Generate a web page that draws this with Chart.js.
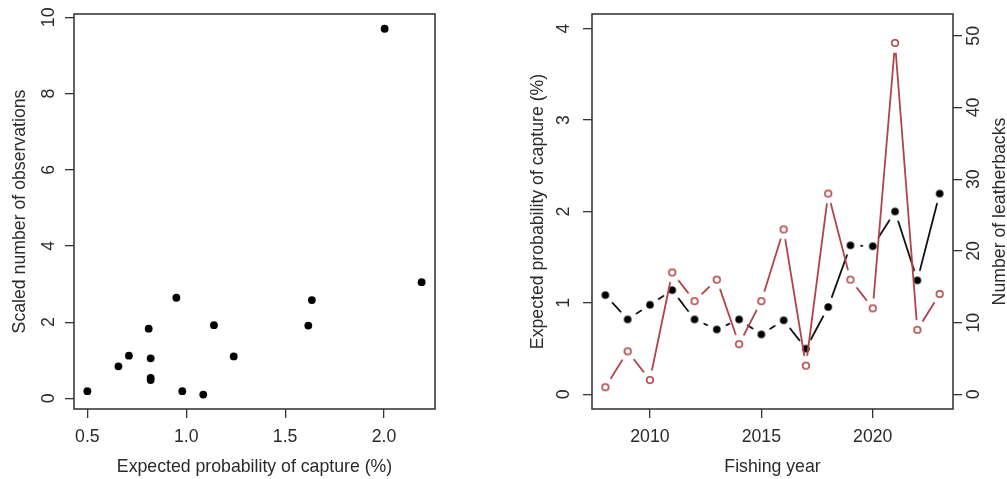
<!DOCTYPE html>
<html>
<head>
<meta charset="utf-8">
<script src="https://cdn.jsdelivr.net/npm/chart.js@4"></script>
<style>
  body { margin: 0; background: #fff; }
  #wrap { position: relative; width: 1007px; height: 479px; }
  #c1 { position: absolute; left: 0; top: 0; }
  #c2 { position: absolute; left: 500px; top: 0; }
</style>
</head>
<body>
<div id="wrap">
  <canvas id="c1" width="500" height="479"></canvas>
  <canvas id="c2" width="507" height="479"></canvas>
</div>
<script>
// left panel: scatter
const scatterX = [1.086, 0.82, 0.98, 1.14, 0.82, 0.71, 0.82, 0.657, 0.81, 0.50, 0.95, 1.635, 1.617, 2.003, 1.24, 2.19];
const scatterY = [0.10, 0.54, 0.19, 1.92, 1.05, 1.12, 0.48, 0.84, 1.83, 0.19, 2.64, 2.58, 1.91, 9.70, 1.10, 3.05];
const scatterXTicks = [0.5, 1.0, 1.5, 2.0];
const scatterYTicks = [0, 2, 4, 6, 8, 10];

// right panel: by year
const years = [2008, 2009, 2010, 2011, 2012, 2013, 2014, 2015, 2016, 2017, 2018, 2019, 2020, 2021, 2022, 2023];
const probCapture = [1.086, 0.82, 0.98, 1.14, 0.82, 0.71, 0.82, 0.656, 0.81, 0.50, 0.955, 1.63, 1.62, 2.0, 1.247, 2.196];
const leatherbacks = [1, 6, 2, 17, 13, 16, 7, 13, 23, 4, 28, 16, 12, 49, 9, 14];
const yearTicks = [2010, 2015, 2020];
const probTicks = [0, 1, 2, 3, 4];
const countTicks = [0, 10, 20, 30, 40, 50];

const FONT = "'Liberation Sans', Arial, sans-serif";
const FS = 17.7;
const TXT = "#2a2a2a";
const RED = "#b0444a";

// box around plot area, like R's box()
const boxPlugin = {
  id: "box",
  afterDraw(chart) {
    const a = chart.chartArea;
    const ctx = chart.ctx;
    ctx.save();
    ctx.strokeStyle = "#3a3a3a";
    ctx.lineWidth = 1.6;
    ctx.strokeRect(a.left, a.top, a.right - a.left, a.bottom - a.top);
    ctx.restore();
  }
};

// marker images with a white halo, so lines stop short of points (type = "b")
function marker(filled, color) {
  const c = document.createElement("canvas");
  c.width = 24; c.height = 24;
  const g = c.getContext("2d");
  g.fillStyle = "#fff";
  g.beginPath(); g.arc(12, 12, 10, 0, Math.PI * 2); g.fill();
  g.beginPath(); g.arc(12, 12, filled ? 3.8 : 3.3, 0, Math.PI * 2);
  if (filled) { g.fillStyle = color; g.fill(); }
  else { g.strokeStyle = color; g.lineWidth = 1.6; g.stroke(); }
  return c;
}

function noPad(s) {
  s.paddingTop = 0; s.paddingBottom = 0; s.paddingLeft = 0; s.paddingRight = 0;
}

function yAxis(min, max, ticks, pos, width, pad, title) {
  return {
    type: "linear", position: pos, min: min, max: max,
    afterBuildTicks: (s) => { s.ticks = ticks.map(v => ({ value: v })); },
    afterFit: (s) => { s.width = width; noPad(s); },
    grid: { drawOnChartArea: false, drawTicks: true, tickLength: 9, color: "#333", lineWidth: 1.3 },
    border: { display: false },
    ticks: { color: TXT, font: { family: FONT, size: FS }, minRotation: 90, maxRotation: 90,
             crossAlign: "center", padding: pad },
    title: title
  };
}

function xAxis(min, max, ticks, fmt, title) {
  return {
    type: "linear", position: "bottom", min: min, max: max,
    afterBuildTicks: (s) => { s.ticks = ticks.map(v => ({ value: v })); },
    afterFit: (s) => { s.height = 70; noPad(s); },
    grid: { drawOnChartArea: false, drawTicks: true, tickLength: 9, color: "#333", lineWidth: 1.3 },
    border: { display: false },
    ticks: { color: TXT, font: { family: FONT, size: FS }, padding: 8, maxRotation: 0,
             callback: fmt },
    title: { display: true, text: title, color: TXT, font: { family: FONT, size: FS }, padding: { top: 0, bottom: 1 } }
  };
}

// Chart 1
new Chart(document.getElementById("c1"), {
  type: "scatter",
  data: {
    datasets: [{
      data: scatterX.map((x, i) => ({ x: x, y: scatterY[i] })),
      backgroundColor: "#000",
      borderColor: "#000",
      pointRadius: 3.9,
      pointBorderWidth: 0
    }]
  },
  options: {
    responsive: false, animation: false,
    layout: { padding: { top: 14, right: 65, left: 0, bottom: 0 } },
    plugins: { legend: { display: false }, tooltip: { enabled: false } },
    scales: {
      x: xAxis(0.4324, 2.2576, scatterXTicks, (v) => v.toFixed(1), "Expected probability of capture (%)"),
      y: yAxis(-0.279, 10.087, scatterYTicks, "left", 74, 6,
        { display: true, text: "Scaled number of observations", color: TXT,
          font: { family: FONT, size: FS }, padding: { top: 9, bottom: 0 } })
    }
  },
  plugins: [boxPlugin]
});

// right-hand title reads bottom to top, as in R's mtext(side = 4)
const rightTitle = {
  id: "rightTitle",
  afterDraw(chart) {
    const a = chart.chartArea;
    const ctx = chart.ctx;
    ctx.save();
    ctx.translate(chart.width - 7, (a.top + a.bottom) / 2);
    ctx.rotate(-Math.PI / 2);
    ctx.fillStyle = TXT;
    ctx.font = FS + "px " + FONT;
    ctx.textAlign = "center";
    ctx.textBaseline = "middle";
    ctx.fillText("Number of leatherbacks", 0, 0);
    ctx.restore();
  }
};

// Chart 2
new Chart(document.getElementById("c2"), {
  type: "line",
  data: {
    datasets: [
      {
        label: "Expected probability of capture",
        data: years.map((x, i) => ({ x: x, y: probCapture[i] })),
        yAxisID: "y",
        borderColor: "#111",
        borderWidth: 1.8,
        pointStyle: marker(true, "#000"),
        pointRadius: 4,
        order: 1
      },
      {
        label: "Number of leatherbacks",
        data: years.map((x, i) => ({ x: x, y: leatherbacks[i] })),
        yAxisID: "y2",
        borderColor: RED,
        borderWidth: 1.8,
        pointStyle: marker(false, RED),
        pointRadius: 4,
        order: 0
      }
    ]
  },
  options: {
    responsive: false, animation: false,
    layout: { padding: { top: 14, right: 0, left: 0, bottom: 0 } },
    plugins: { legend: { display: false }, tooltip: { enabled: false } },
    scales: {
      x: xAxis(2007.4, 2023.6, yearTicks, (v) => String(v), "Fishing year"),
      y: yAxis(-0.16, 4.16, probTicks, "left", 92, 14,
        { display: true, text: "Expected probability of capture (%)", color: TXT,
          font: { family: FONT, size: FS }, padding: { top: 27, bottom: 0 } }),
      y2: yAxis(-2.04, 53.04, countTicks, "right", 54, 2, { display: false })
    }
  },
  plugins: [boxPlugin, rightTitle]
});
</script>
</body>
</html>
